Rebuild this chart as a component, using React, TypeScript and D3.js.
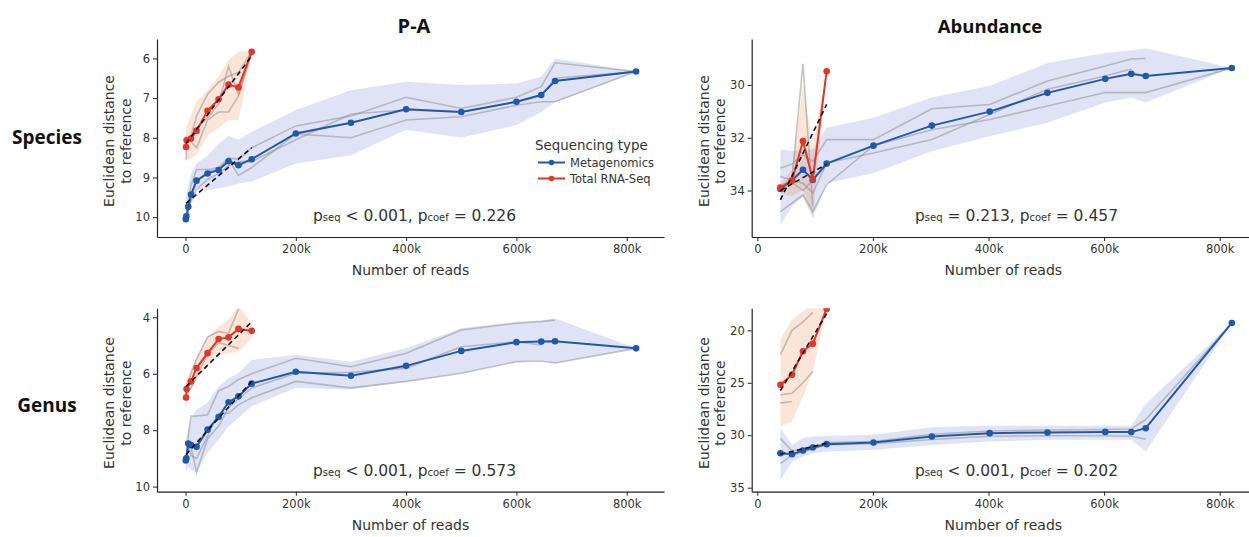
import React, { useEffect, useRef } from 'react';
import * as d3 from 'd3';

// number of reads, in thousands
const paMetaReads = [0.5, 1.5, 5, 10, 20, 40, 60, 78, 96, 120, 200, 300, 400, 500, 600, 645, 670, 817];
const paRnaReads = [1, 2, 10, 20, 40, 60, 78, 96, 120];
const abMetaReads = [40, 60, 79, 96, 120, 201, 302, 402, 502, 602, 647, 672, 821];
const abRnaReads = [40, 60, 79, 96, 120];

// P-A / Species
const paSpeciesMeta = [10.05, 9.98, 9.74, 9.43, 9.08, 8.9, 8.81, 8.59, 8.69, 8.54, 7.89, 7.62, 7.28, 7.35, 7.09, 6.92, 6.57, 6.33];
const paSpeciesMetaHi = [9.55, 9.5, 9.2, 8.9, 8.65, 8.45, 8.15, 7.95, 8.05, 7.85, 7.3, 6.8, 6.59, 6.67, 6.63, 6.46, 6.0, 6.33];
const paSpeciesMetaLo = [10.15, 10.12, 9.95, 9.6, 9.27, 9.32, 9.27, 9.23, 9.15, 9.1, 8.65, 8.44, 7.8, 7.99, 7.68, 7.35, 7.1, 6.33];
const paSpeciesMetaReps = [
  [10.0, 9.95, 9.6, 9.2, 8.8, 8.8, 8.75, 8.5, 8.55, 8.25, 7.7, 7.45, 6.98, 7.26, 6.98, 6.71, 6.11, 6.33],
  [10.1, 10.0, 9.8, 9.5, 9.1, 8.85, 8.8, 8.55, 8.95, 8.75, 7.9, 8.0, 7.55, 7.47, 7.18, 7.09, 7.09, 6.33],
  [10.05, 10.0, 9.85, 9.6, 9.3, 9.05, 8.9, 8.7, 8.6, 8.6, 8.05, 7.4, 7.3, 7.35, 7.1, 6.95, 6.5, 6.33],
];
const paSpeciesRna = [8.23, 8.06, 8.02, 7.82, 7.32, 7.03, 6.66, 6.73, 5.83];
const paSpeciesRnaHi = [7.76, 7.72, 7.4, 7.09, 6.8, 6.45, 6.04, 5.83, 5.83];
const paSpeciesRnaLo = [8.6, 8.58, 8.5, 8.44, 7.93, 7.76, 7.55, 7.55, 5.95];
const paSpeciesRnaReps = [
  [8.55, 8.1, 7.95, 7.45, 6.9, 6.6, 6.45, 6.35, 5.83],
  [8.2, 8.05, 8.1, 8.25, 7.55, 7.35, 7.35, 6.95, 5.83],
  [7.95, 8.0, 8.0, 7.75, 7.5, 7.15, 6.2, 6.9, 5.83],
];
const paSpeciesTrend = [[1, 9.65, 120, 8.25], [1, 8.14, 120, 5.94]];

// Abundance / Species
const abSpeciesMeta = [33.94, 33.62, 33.21, 33.6, 32.98, 32.3, 31.54, 31.01, 30.3, 29.77, 29.58, 29.66, 29.36];
const abSpeciesMetaHi = [32.45, 32.5, 32.45, 32.45, 31.62, 31.24, 30.48, 30.04, 29.17, 28.79, 28.7, 28.61, 29.36];
const abSpeciesMetaLo = [35.31, 34.6, 34.23, 35.05, 33.72, 33.34, 32.51, 31.94, 31.43, 30.67, 30.48, 30.67, 29.36];
const abSpeciesMetaReps = [
  [33.15, 33.0, 32.64, 32.9, 32.07, 32.07, 30.9, 30.74, 29.85, 29.28, 29.02, 29.0, null],
  [33.47, 33.6, 33.72, 34.1, 32.96, 32.58, 32.07, 31.12, 30.16, 29.66, 29.4, null, null],
  [34.8, 34.48, 34.16, 34.8, 33.78, 32.3, 31.7, 31.31, 30.8, 30.29, 30.29, 30.29, 29.36],
];
const abSpeciesRna = [33.89, 33.62, 32.13, 33.57, 29.48];
const abSpeciesRnaHi = [33.75, 33.2, 30.04, 32.3, 29.48];
const abSpeciesRnaLo = [34.1, 34.23, 33.97, 34.99, 29.48];
const abSpeciesRnaReps = [
  [33.85, 33.55, 29.2, 34.6, null],
  [33.9, 33.7, 34.0, 33.6, null],
];
const abSpeciesTrend = [[40, 34.0, 120, 33.0], [40, 34.35, 120, 30.74]];

// P-A / Genus
const paGenusMeta = [9.07, 9.0, 8.47, 8.53, 8.59, 7.98, 7.53, 7.01, 6.8, 6.35, 5.93, 6.07, 5.72, 5.19, 4.88, 4.86, 4.85, 5.1];
const paGenusMetaHi = [8.4, 8.3, 7.98, 7.6, 7.27, 7.03, 6.45, 6.15, 5.98, 5.51, 5.33, 5.57, 5.1, 4.39, 4.16, 4.1, 4.04, 5.1];
const paGenusMetaLo = [9.45, 9.45, 9.3, 9.4, 9.5, 8.8, 8.33, 7.86, 7.56, 7.15, 6.5, 6.56, 6.27, 5.98, 5.57, 5.51, 5.62, 5.1];
const paGenusMetaReps = [
  [9.1, 9.0, 8.2, 7.5, 7.5, 7.45, 6.6, 6.45, 6.2, 6.0, 5.45, 5.75, 5.27, 4.45, 4.21, 4.15, 4.1, null],
  [9.05, 8.95, 8.6, 8.6, 9.5, 8.3, 7.85, 7.2, 6.9, 6.5, 5.98, 5.95, 5.8, 5.04, 4.86, 4.98, null, null],
  [9.0, 9.05, 8.6, 8.9, 9.0, 8.2, 7.4, 7.4, 7.1, 6.85, 6.27, 6.5, 6.27, 5.98, 5.57, 5.55, 5.62, 5.1],
];
const paGenusRna = [6.84, 6.54, 6.27, 5.8, 5.27, 4.77, 4.71, 4.41, 4.48];
const paGenusRnaHi = [6.39, 6.2, 5.8, 5.45, 4.68, 4.33, 4.1, 3.6, 4.21];
const paGenusRnaLo = [7.27, 7.1, 6.6, 6.21, 5.74, 5.33, 5.27, 5.21, 4.74];
const paGenusRnaReps = [
  [6.6, 6.4, 6.0, 5.48, 4.7, 4.5, 4.57, 3.72, null],
  [6.9, 6.7, 6.5, 6.1, 5.3, 4.9, 5.0, 5.1, null],
];
const paGenusTrend = [[1, 8.86, 120, 6.27], [1, 6.45, 120, 4.16]];

// Abundance / Genus
const abGenusMeta = [31.71, 31.81, 31.46, 31.17, 30.85, 30.7, 30.12, 29.8, 29.74, 29.68, 29.7, 29.33, 19.3];
const abGenusMetaHi = [29.33, 30.92, 30.28, 30.12, 30.06, 29.96, 29.23, 29.1, 29.1, 29.1, 29.1, 27.0, 19.3];
const abGenusMetaLo = [34.26, 32.51, 32.03, 31.71, 31.56, 31.39, 30.92, 30.6, 30.44, 30.44, 30.44, 31.56, 19.3];
const abGenusMetaReps = [
  [30.3, 31.5, 31.3, 31.1, 30.7, 30.6, 29.9, 29.6, 29.5, 29.45, 29.4, 28.5, 19.3],
  [32.7, 31.9, 31.6, 31.3, 30.9, 30.8, 30.4, 30.1, 30.05, 30.05, 30.1, 30.37, null],
];
const abGenusRna = [25.19, 24.23, 22.0, 21.27, 17.96];
const abGenusRnaHi = [20.89, 18.98, 18.2, 17.5, 17.5];
const abGenusRnaLo = [29.17, 28.69, 26.3, 23.92, 17.96];
const abGenusRnaReps = [
  [22.32, 20.0, 19.2, 18.3, null],
  [26.14, 26.0, 25.0, 23.92, null],
  [26.94, 26.78, null, null, null],
];
const abGenusTrend = [[40, 31.81, 120, 30.76], [40, 25.75, 120, 18.4]];

const columnTitles = ['P-A', 'Abundance'];
const rowTitles = ['Species', 'Genus'];
const xTicks = [0, 200, 400, 600, 800];
const seriesNames = ['Metagenomics', 'Total RNA-Seq'];
// [comparison, p_seq, p_coef]
const stats = [['<', '0.001', '0.226'], ['=', '0.213', '0.457'], ['<', '0.001', '0.573'], ['<', '0.001', '0.202']];

const META = '#2159aa';
const RNA = '#e0362b';
const FONT = 'DejaVu Sans, Verdana, sans-serif';

const cols = [{ left: 157, right: 664, dom: [-51.7, 867.6], statX: 313 }, { left: 751.7, right: 1249, dom: [-9.7, 850.7], statX: 915 }];
const rows = [{ top: 39, bottom: 237 }, { top: 308.3, bottom: 491.7 }];

const panels = [
  { r: 0, c: 0, yDom: [5.51, 10.5], yTicks: [6, 7, 8, 9, 10], stat: stats[0],
    meta: { x: paMetaReads, y: paSpeciesMeta, hi: paSpeciesMetaHi, lo: paSpeciesMetaLo, reps: paSpeciesMetaReps },
    rna: { x: paRnaReads, y: paSpeciesRna, hi: paSpeciesRnaHi, lo: paSpeciesRnaLo, reps: paSpeciesRnaReps },
    trend: paSpeciesTrend },
  { r: 0, c: 1, yDom: [28.26, 35.76], yTicks: [30, 32, 34], stat: stats[1],
    meta: { x: abMetaReads, y: abSpeciesMeta, hi: abSpeciesMetaHi, lo: abSpeciesMetaLo, reps: abSpeciesMetaReps },
    rna: { x: abRnaReads, y: abSpeciesRna, hi: abSpeciesRnaHi, lo: abSpeciesRnaLo, reps: abSpeciesRnaReps },
    trend: abSpeciesTrend },
  { r: 1, c: 0, yDom: [3.68, 10.18], yTicks: [4, 6, 8, 10], stat: stats[2],
    meta: { x: paMetaReads, y: paGenusMeta, hi: paGenusMetaHi, lo: paGenusMetaLo, reps: paGenusMetaReps },
    rna: { x: paRnaReads, y: paGenusRna, hi: paGenusRnaHi, lo: paGenusRnaLo, reps: paGenusRnaReps },
    trend: paGenusTrend },
  { r: 1, c: 1, yDom: [17.9, 35.38], yTicks: [20, 25, 30, 35], stat: stats[3],
    meta: { x: abMetaReads, y: abGenusMeta, hi: abGenusMetaHi, lo: abGenusMetaLo, reps: abGenusMetaReps },
    rna: { x: abRnaReads, y: abGenusRna, hi: abGenusRnaHi, lo: abGenusRnaLo, reps: abGenusRnaReps },
    trend: abGenusTrend },
];

function App() {
  const svgRef = useRef(null);

  useEffect(() => {
    const svg = d3.select(svgRef.current);
    svg.selectAll('*').remove();

    panels.forEach((p, i) => {
      const col = cols[p.c];
      const row = rows[p.r];
      const x = d3.scaleLinear().domain(col.dom).range([col.left, col.right]);
      const y = d3.scaleLinear().domain(p.yDom).range([row.top, row.bottom]);
      const g = svg.append('g');

      const clipId = `clip${i}`;
      svg.append('clipPath').attr('id', clipId)
        .append('rect')
        .attr('x', col.left).attr('y', row.top)
        .attr('width', col.right - col.left).attr('height', row.bottom - row.top);
      const plot = g.append('g').attr('clip-path', `url(#${clipId})`);

      const series = [
        { d: p.meta, color: META, band: 'rgba(76,100,200,0.18)' },
        { d: p.rna, color: RNA, band: 'rgba(235,120,60,0.2)' },
      ];

      series.forEach(s => {
        const idx = d3.range(s.d.x.length);
        const area = d3.area()
          .x(k => x(s.d.x[k]))
          .y0(k => y(s.d.lo[k]))
          .y1(k => y(s.d.hi[k]));
        plot.append('path').attr('d', area(idx)).attr('fill', s.band);
      });

      series.forEach(s => {
        s.d.reps.forEach(rep => {
          const line = d3.line()
            .defined(k => rep[k] != null)
            .x(k => x(s.d.x[k]))
            .y(k => y(rep[k]));
          plot.append('path').attr('d', line(d3.range(rep.length)))
            .attr('fill', 'none').attr('stroke', 'rgba(140,140,140,0.5)').attr('stroke-width', 1.6);
        });
      });

      series.forEach(s => {
        const idx = d3.range(s.d.x.length);
        const line = d3.line().x(k => x(s.d.x[k])).y(k => y(s.d.y[k]));
        plot.append('path').attr('d', line(idx))
          .attr('fill', 'none').attr('stroke', s.color).attr('stroke-width', 2);
        plot.selectAll(null).data(idx).join('circle')
          .attr('cx', k => x(s.d.x[k])).attr('cy', k => y(s.d.y[k]))
          .attr('r', 3.3).attr('fill', s.color);
      });

      p.trend.forEach(t => {
        plot.append('line')
          .attr('x1', x(t[0])).attr('y1', y(t[1]))
          .attr('x2', x(t[2])).attr('y2', y(t[3]))
          .attr('stroke', '#111').attr('stroke-width', 1.6).attr('stroke-dasharray', '5,3.5');
      });

      // axes
      const xAxis = d3.axisBottom(x).tickValues(xTicks).tickSizeInner(4).tickSizeOuter(0).tickPadding(4)
        .tickFormat(d => (d === 0 ? '0' : `${d}k`));
      const yAxis = d3.axisLeft(y).tickValues(p.yTicks).tickSizeInner(4).tickSizeOuter(0).tickPadding(3)
        .tickFormat(d3.format('d'));
      [g.append('g').attr('transform', `translate(0,${row.bottom})`).call(xAxis),
        g.append('g').attr('transform', `translate(${col.left},0)`).call(yAxis)].forEach(a => {
        a.selectAll('path').attr('stroke', '#222').attr('stroke-width', 1.2);
        a.selectAll('line').attr('stroke', '#222').attr('stroke-width', 1);
        a.selectAll('text').attr('font-family', FONT).attr('font-size', 11.5).attr('fill', '#333');
      });

      g.append('text')
        .attr('x', (col.left + col.right) / 2 + (p.c === 0 ? 0 : 3)).attr('y', row.bottom + 38)
        .attr('text-anchor', 'middle').attr('font-family', FONT).attr('font-size', 14).attr('fill', '#333')
        .text('Number of reads');

      const ly = g.append('text')
        .attr('transform', `translate(${col.left - 43},${(row.top + row.bottom) / 2 + 3}) rotate(-90)`)
        .attr('text-anchor', 'middle').attr('font-family', FONT).attr('font-size', 14).attr('fill', '#333');
      ly.append('tspan').attr('x', 0).attr('y', 0).text('Euclidean distance');
      ly.append('tspan').attr('x', 0).attr('y', 16.5).text('to reference');

      const st = g.append('text')
        .attr('x', col.statX).attr('y', row.bottom - 16)
        .attr('font-family', FONT).attr('font-size', 15.5).attr('fill', '#333');
      st.append('tspan').text('p');
      st.append('tspan').attr('font-size', 10).text('seq');
      st.append('tspan').text(` ${p.stat[0]} ${p.stat[1]}, p`);
      st.append('tspan').attr('font-size', 10).text('coef');
      st.append('tspan').text(` = ${p.stat[2]}`);
    });

    columnTitles.forEach((t, c) => {
      svg.append('text')
        .attr('x', c === 0 ? 414 : 990).attr('y', 33)
        .attr('text-anchor', 'middle').attr('font-family', 'Open Sans, sans-serif')
        .attr('font-weight', 700).attr('font-size', c === 0 ? 20 : 18.5).attr('fill', '#111')
        .text(t);
    });
    rowTitles.forEach((t, r) => {
      svg.append('text')
        .attr('x', 47).attr('y', r === 0 ? 144 : 412)
        .attr('text-anchor', 'middle').attr('font-family', 'Open Sans, sans-serif')
        .attr('font-weight', 700).attr('font-size', 19).attr('fill', '#111')
        .text(t);
    });

    // legend
    const lg = svg.append('g');
    lg.append('text').attr('x', 535).attr('y', 149.5)
      .attr('font-family', FONT).attr('font-size', 13.4).attr('fill', '#333').text('Sequencing type');
    seriesNames.forEach((name, k) => {
      const yy = 162.5 + k * 16;
      const color = k === 0 ? META : RNA;
      lg.append('line').attr('x1', 538).attr('x2', 565).attr('y1', yy).attr('y2', yy)
        .attr('stroke', color).attr('stroke-width', 2);
      lg.append('circle').attr('cx', 551.5).attr('cy', yy).attr('r', 2.8).attr('fill', color);
      lg.append('text').attr('x', 570).attr('y', yy + 4)
        .attr('font-family', FONT).attr('font-size', 11.5).attr('fill', '#333').text(name);
    });
  }, []);

  return (
    <div style={{ position: 'absolute', left: 0, top: 0 }}>
      <svg ref={svgRef} width={1249} height={537} style={{ display: 'block', background: '#fff' }}></svg>
    </div>
  );
}

export default App;
